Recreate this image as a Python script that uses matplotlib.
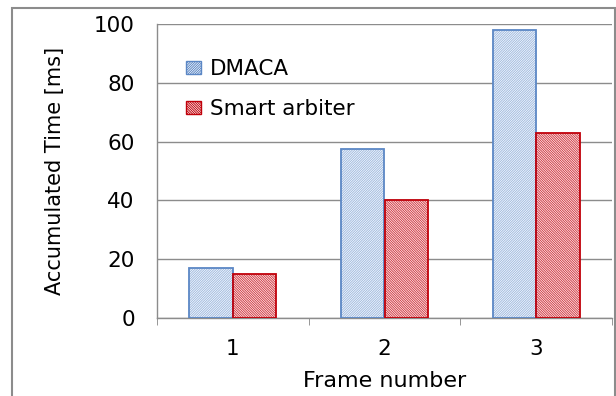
import numpy as np
import matplotlib.pyplot as plt
from matplotlib.patches import Patch, Rectangle

FRAMES = ["1", "2", "3"]
DMACA = [17, 57.5, 98]
SMART = [15, 40, 63]
LABELS = ["DMACA", "Smart arbiter"]
YTICKS = [0, 20, 40, 60, 80, 100]

BLUE_EDGE = "#5B87C5"
BLUE_HATCH = "#9FBAE0"
RED_EDGE = "#C0000A"
RED_HATCH = "#D23B44"
W = 0.287
HATCH_B = "/" * 14
HATCH_R = "\\" * 14

plt.rcParams['font.family'] = ['DejaVu Sans']
plt.rcParams['hatch.linewidth'] = 0.7


def hatched_bars(ax, x, vals, edge, hatch_col, hatch):
    # hatch layer uses edgecolor, so draw the hatch first and the outline after
    ax.bar(x, vals, W, facecolor="white", edgecolor=hatch_col, hatch=hatch, linewidth=0, zorder=2)
    ax.bar(x, vals, W, facecolor="none", edgecolor=edge, linewidth=1.3, zorder=3)


def main():
    fig = plt.figure(figsize=(6.16, 3.96), dpi=100)
    ax = fig.add_axes([157 / 616, 1 - 318 / 396, 455 / 616, 294 / 396])

    x = np.arange(len(FRAMES))
    hatched_bars(ax, x - W / 2, DMACA, BLUE_EDGE, BLUE_HATCH, HATCH_B)
    hatched_bars(ax, x + W / 2, SMART, RED_EDGE, RED_HATCH, HATCH_R)

    ax.set_xlim(-0.5, 2.5)
    ax.set_ylim(0, 100)
    ax.set_yticks(YTICKS)
    ax.set_xticks(x)
    ax.set_xticklabels(FRAMES)
    ax.set_xticks([-0.5, 0.5, 1.5, 2.5], minor=True)
    ax.tick_params(axis="x", which="major", length=0, labelsize=15.5, pad=15)
    ax.tick_params(axis="x", which="minor", length=5, color="#868686", direction="out")
    ax.tick_params(axis="y", length=0, labelsize=15.5, pad=16)
    ax.yaxis.grid(True, color="#8c8c8c", linewidth=1)
    ax.set_axisbelow(True)
    for s in ["top", "right"]:
        ax.spines[s].set_visible(False)
    for s in ["left", "bottom"]:
        ax.spines[s].set_color("#8c8c8c")
        ax.spines[s].set_linewidth(1)

    ax.set_ylabel("Accumulated Time [ms]", fontsize=15, labelpad=21)
    ax.set_xlabel("Frame number", fontsize=16, labelpad=9)

    handles = [
        Patch(facecolor="white", edgecolor=BLUE_EDGE, hatch=HATCH_B, linewidth=1),
        Patch(facecolor="white", edgecolor=RED_EDGE, hatch=HATCH_R, linewidth=1),
    ]
    ax.legend(handles, LABELS, loc="upper left", bbox_to_anchor=(0.022, 0.947),
              frameon=False, fontsize=15.5, handlelength=0.7, handleheight=0.55,
              handletextpad=0.4, labelspacing=0.95)

    # outer chart border
    fig.patches.append(Rectangle((12 / 616, -0.1), 603 / 616, 1.1 - 8 / 396,
                                 transform=fig.transFigure, fill=False,
                                 edgecolor="#8c8c8c", linewidth=1.5))

    plt.savefig("out.png", dpi=100)


if __name__ == "__main__":
    main()
